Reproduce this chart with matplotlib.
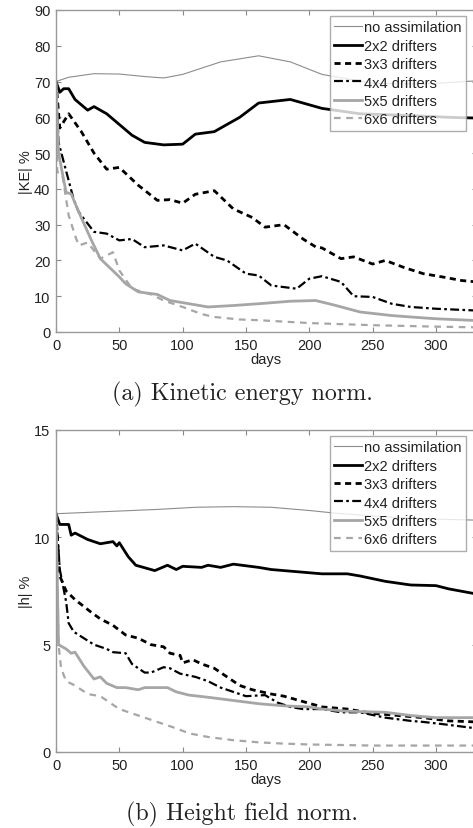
import matplotlib
matplotlib.use('Agg')
from matplotlib import pyplot as plt

# ---- panel (a): kinetic energy norm, |KE| %
ke_none_days = [0, 10, 30, 50, 70, 85, 100, 130, 160, 185, 210, 250, 290, 332]
ke_none = [70, 71.2, 72.2, 72.1, 71.4, 71.0, 72.0, 75.5, 77.2, 75.5, 72.0, 69.5, 69.3, 70.2]

ke_2x2_days = [0, 3, 6, 10, 15, 25, 30, 40, 50, 60, 70, 85, 100, 110, 125, 145, 160, 185, 210, 240, 280, 310, 332]
ke_2x2 = [70, 67, 68, 68, 65, 62, 63, 61, 58, 55, 53, 52.3, 52.5, 55.3, 56, 60, 64, 65, 62.5, 61, 60.5, 60, 59.8]

ke_3x3_days = [0, 3, 10, 20, 30, 40, 50, 65, 80, 90, 100, 110, 125, 140, 155, 165, 180, 195, 205, 210, 225, 235,
               250, 260, 275, 290, 305, 320, 332]
ke_3x3 = [70, 57, 61, 56, 50, 45.5, 46, 41, 36.8, 37, 36, 38.5, 39.5, 34.4, 32, 29.3, 30, 26, 23.8, 23.5, 20.5, 21,
          19, 20, 18, 16.3, 15.4, 14.4, 14]

ke_4x4_days = [0, 2, 8, 14, 18, 30, 40, 50, 60, 70, 85, 100, 110, 125, 135, 150, 160, 170, 190, 200, 210, 225,
               235, 250, 265, 280, 300, 332]
ke_4x4 = [70, 53, 45, 37, 33.5, 28, 27.5, 25.6, 26, 23.7, 24.2, 22.8, 24.7, 21, 20, 16.3, 15.8, 13, 12.1, 14.9,
          15.6, 14, 10, 9.8, 7.9, 7, 6.5, 6]

ke_5x5_days = [0, 2, 8, 12, 18, 28, 35, 50, 55, 65, 80, 90, 105, 120, 140, 160, 185, 205, 220, 240, 265, 280,
               300, 332]
ke_5x5 = [70, 50, 39, 38.6, 33.5, 25.6, 20.5, 15.4, 13.5, 11.2, 10.5, 8.8, 7.9, 7, 7.4, 7.9, 8.6, 8.8, 7.5, 5.6,
          4.6, 4.2, 3.7, 3.2]

ke_6x6_days = [0, 1, 5, 10, 15, 18, 25, 35, 45, 50, 60, 75, 85, 100, 115, 125, 145, 160, 200, 250, 300, 332]
ke_6x6 = [70, 44.7, 44, 32.6, 27, 24.2, 25, 20.5, 22.3, 17.2, 12.1, 10.5, 8.8, 7, 5, 4.2, 3.5, 3.3, 2.5, 1.9,
          1.5, 1.3]

# ---- panel (b): height field norm, |h| %
h_none_days = [0, 40, 80, 110, 140, 170, 200, 220, 260, 300, 332]
h_none = [11.1, 11.2, 11.3, 11.4, 11.43, 11.4, 11.25, 11.13, 10.95, 10.85, 10.8]

h_2x2_days = [0, 3, 10, 12, 15, 25, 35, 45, 48, 50, 57, 63, 78, 88, 95, 100, 115, 120, 130, 140, 160, 170, 190,
              210, 230, 240, 260, 280, 300, 310, 332]
h_2x2 = [11.1, 10.6, 10.6, 10.1, 10.2, 9.9, 9.7, 9.8, 9.6, 9.75, 9.1, 8.7, 8.45, 8.7, 8.5, 8.65, 8.6, 8.7, 8.6,
         8.75, 8.6, 8.5, 8.4, 8.3, 8.3, 8.2, 7.95, 7.78, 7.75, 7.6, 7.36]

h_3x3_days = [0, 3, 8, 15, 28, 35, 45, 55, 65, 75, 85, 90, 98, 100, 108, 115, 125, 135, 145, 155, 170, 180, 195,
              210, 230, 250, 270, 290, 310, 332]
h_3x3 = [11.1, 8.2, 7.5, 7.1, 6.5, 6.2, 5.9, 5.45, 5.3, 5.0, 4.9, 4.6, 4.5, 4.15, 4.3, 4.1, 3.9, 3.5, 3.1, 2.9,
         2.7, 2.6, 2.35, 2.1, 2.0, 1.8, 1.7, 1.6, 1.45, 1.4]

h_4x4_days = [0, 3, 8, 10, 14, 22, 30, 40, 45, 55, 60, 70, 75, 85, 90, 98, 110, 120, 130, 140, 150, 165, 175,
              185, 195, 210, 225, 240, 260, 280, 290, 305, 332]
h_4x4 = [11.1, 8.5, 7.0, 6.0, 5.6, 5.3, 5.0, 4.8, 4.65, 4.6, 4.1, 3.7, 3.7, 3.95, 3.9, 3.65, 3.5, 3.3, 3.0, 2.8,
         2.6, 2.65, 2.3, 2.1, 2.0, 2.0, 1.85, 1.85, 1.6, 1.45, 1.4, 1.3, 1.1]

h_5x5_days = [0, 2, 8, 12, 15, 22, 30, 35, 40, 48, 55, 65, 70, 88, 95, 105, 120, 140, 160, 180, 200, 210, 230,
              260, 280, 300, 332]
h_5x5 = [11.1, 5.0, 4.8, 4.6, 4.65, 4.0, 3.4, 3.5, 3.2, 3.0, 3.0, 2.9, 3.0, 3.0, 2.8, 2.65, 2.55, 2.4, 2.25, 2.15,
         2.1, 2.0, 1.9, 1.85, 1.7, 1.6, 1.6]

h_6x6_days = [0, 2, 4, 8, 15, 25, 35, 40, 50, 60, 75, 85, 95, 105, 120, 140, 160, 180, 200, 250, 332]
h_6x6 = [11.1, 5.0, 3.9, 3.3, 3.1, 2.7, 2.6, 2.4, 2.0, 1.8, 1.5, 1.3, 1.1, 0.87, 0.7, 0.55, 0.45, 0.39, 0.35,
         0.3, 0.3]

labels = ['no assimilation', '2x2 drifters', '3x3 drifters', '4x4 drifters', '5x5 drifters', '6x6 drifters']

GRAY = '#a6a6a6'
styles = [
    dict(color='#8c8c8c', lw=0.8, ls='-'),
    dict(color='black', lw=2.0, ls='-'),
    dict(color='black', lw=2.0, ls=(0, (2.2, 1.6))),
    dict(color='black', lw=1.6, ls=(0, (4, 1.5, 1.2, 1.5))),
    dict(color=GRAY, lw=2.0, ls='-'),
    dict(color=GRAY, lw=1.6, ls=(0, (3, 2.5))),
]

plt.rcParams['font.family'] = ['Liberation Sans', 'DejaVu Sans']

W, H = 473, 829
fig = plt.figure(figsize=(W / 100, H / 100), dpi=100)

x_left = 56
x_right = 476.5


def make_axes(top_px, bottom_px):
    return fig.add_axes([x_left / W, 1 - bottom_px / H, (x_right - x_left) / W, (bottom_px - top_px) / H])


def draw_panel(ax, series, ymax, yticks, ylabel, caption, top_px):
    for (d, v), lab, st in zip(series, labels, styles):
        ax.plot(d, v, label=lab, **st)
    ax.set_xlim(0, 332)
    ax.set_ylim(0, ymax)
    ax.set_xticks([0, 50, 100, 150, 200, 250, 300])
    ax.set_yticks(yticks)
    ax.tick_params(direction='in', top=True, right=True, length=3.5, width=0.8,
                   color='#888888', labelsize=10.5, pad=4, labelcolor='#222222')
    for s in ax.spines.values():
        s.set_color('#999999')
        s.set_linewidth(1.0)
    ax.set_xlabel('days', fontsize=10.5, labelpad=0, color='#222222')
    ax.set_ylabel(ylabel, fontsize=10.5, labelpad=1, color='#222222')
    leg = ax.legend(loc='upper right', bbox_to_anchor=(466 / W, 1 - (top_px + 6) / H),
                    bbox_transform=fig.transFigure, fontsize=10.5, frameon=True, fancybox=False,
                    handlelength=1.9, handletextpad=0.15, labelspacing=0.3, borderpad=0.3,
                    borderaxespad=0)
    leg.get_frame().set_edgecolor('#999999')
    leg.get_frame().set_linewidth(1.0)
    for t in leg.get_texts():
        t.set_color('#222222')
    fig.text(242 / W, 1 - (top_px + 383) / H, caption, ha='center', va='center',
             fontsize=17.3, family='cmr10', color='#222222')


ax1 = make_axes(11, 333)
draw_panel(ax1, [(ke_none_days, ke_none), (ke_2x2_days, ke_2x2), (ke_3x3_days, ke_3x3),
                 (ke_4x4_days, ke_4x4), (ke_5x5_days, ke_5x5), (ke_6x6_days, ke_6x6)],
           90, range(0, 91, 10), '|KE| %', '(a) Kinetic energy norm.', 11)

ax2 = make_axes(431, 753)
draw_panel(ax2, [(h_none_days, h_none), (h_2x2_days, h_2x2), (h_3x3_days, h_3x3),
                 (h_4x4_days, h_4x4), (h_5x5_days, h_5x5), (h_6x6_days, h_6x6)],
           15, [0, 5, 10, 15], '|h| %', '(b) Height field norm.', 431)

fig.savefig('out.png', dpi=100)
